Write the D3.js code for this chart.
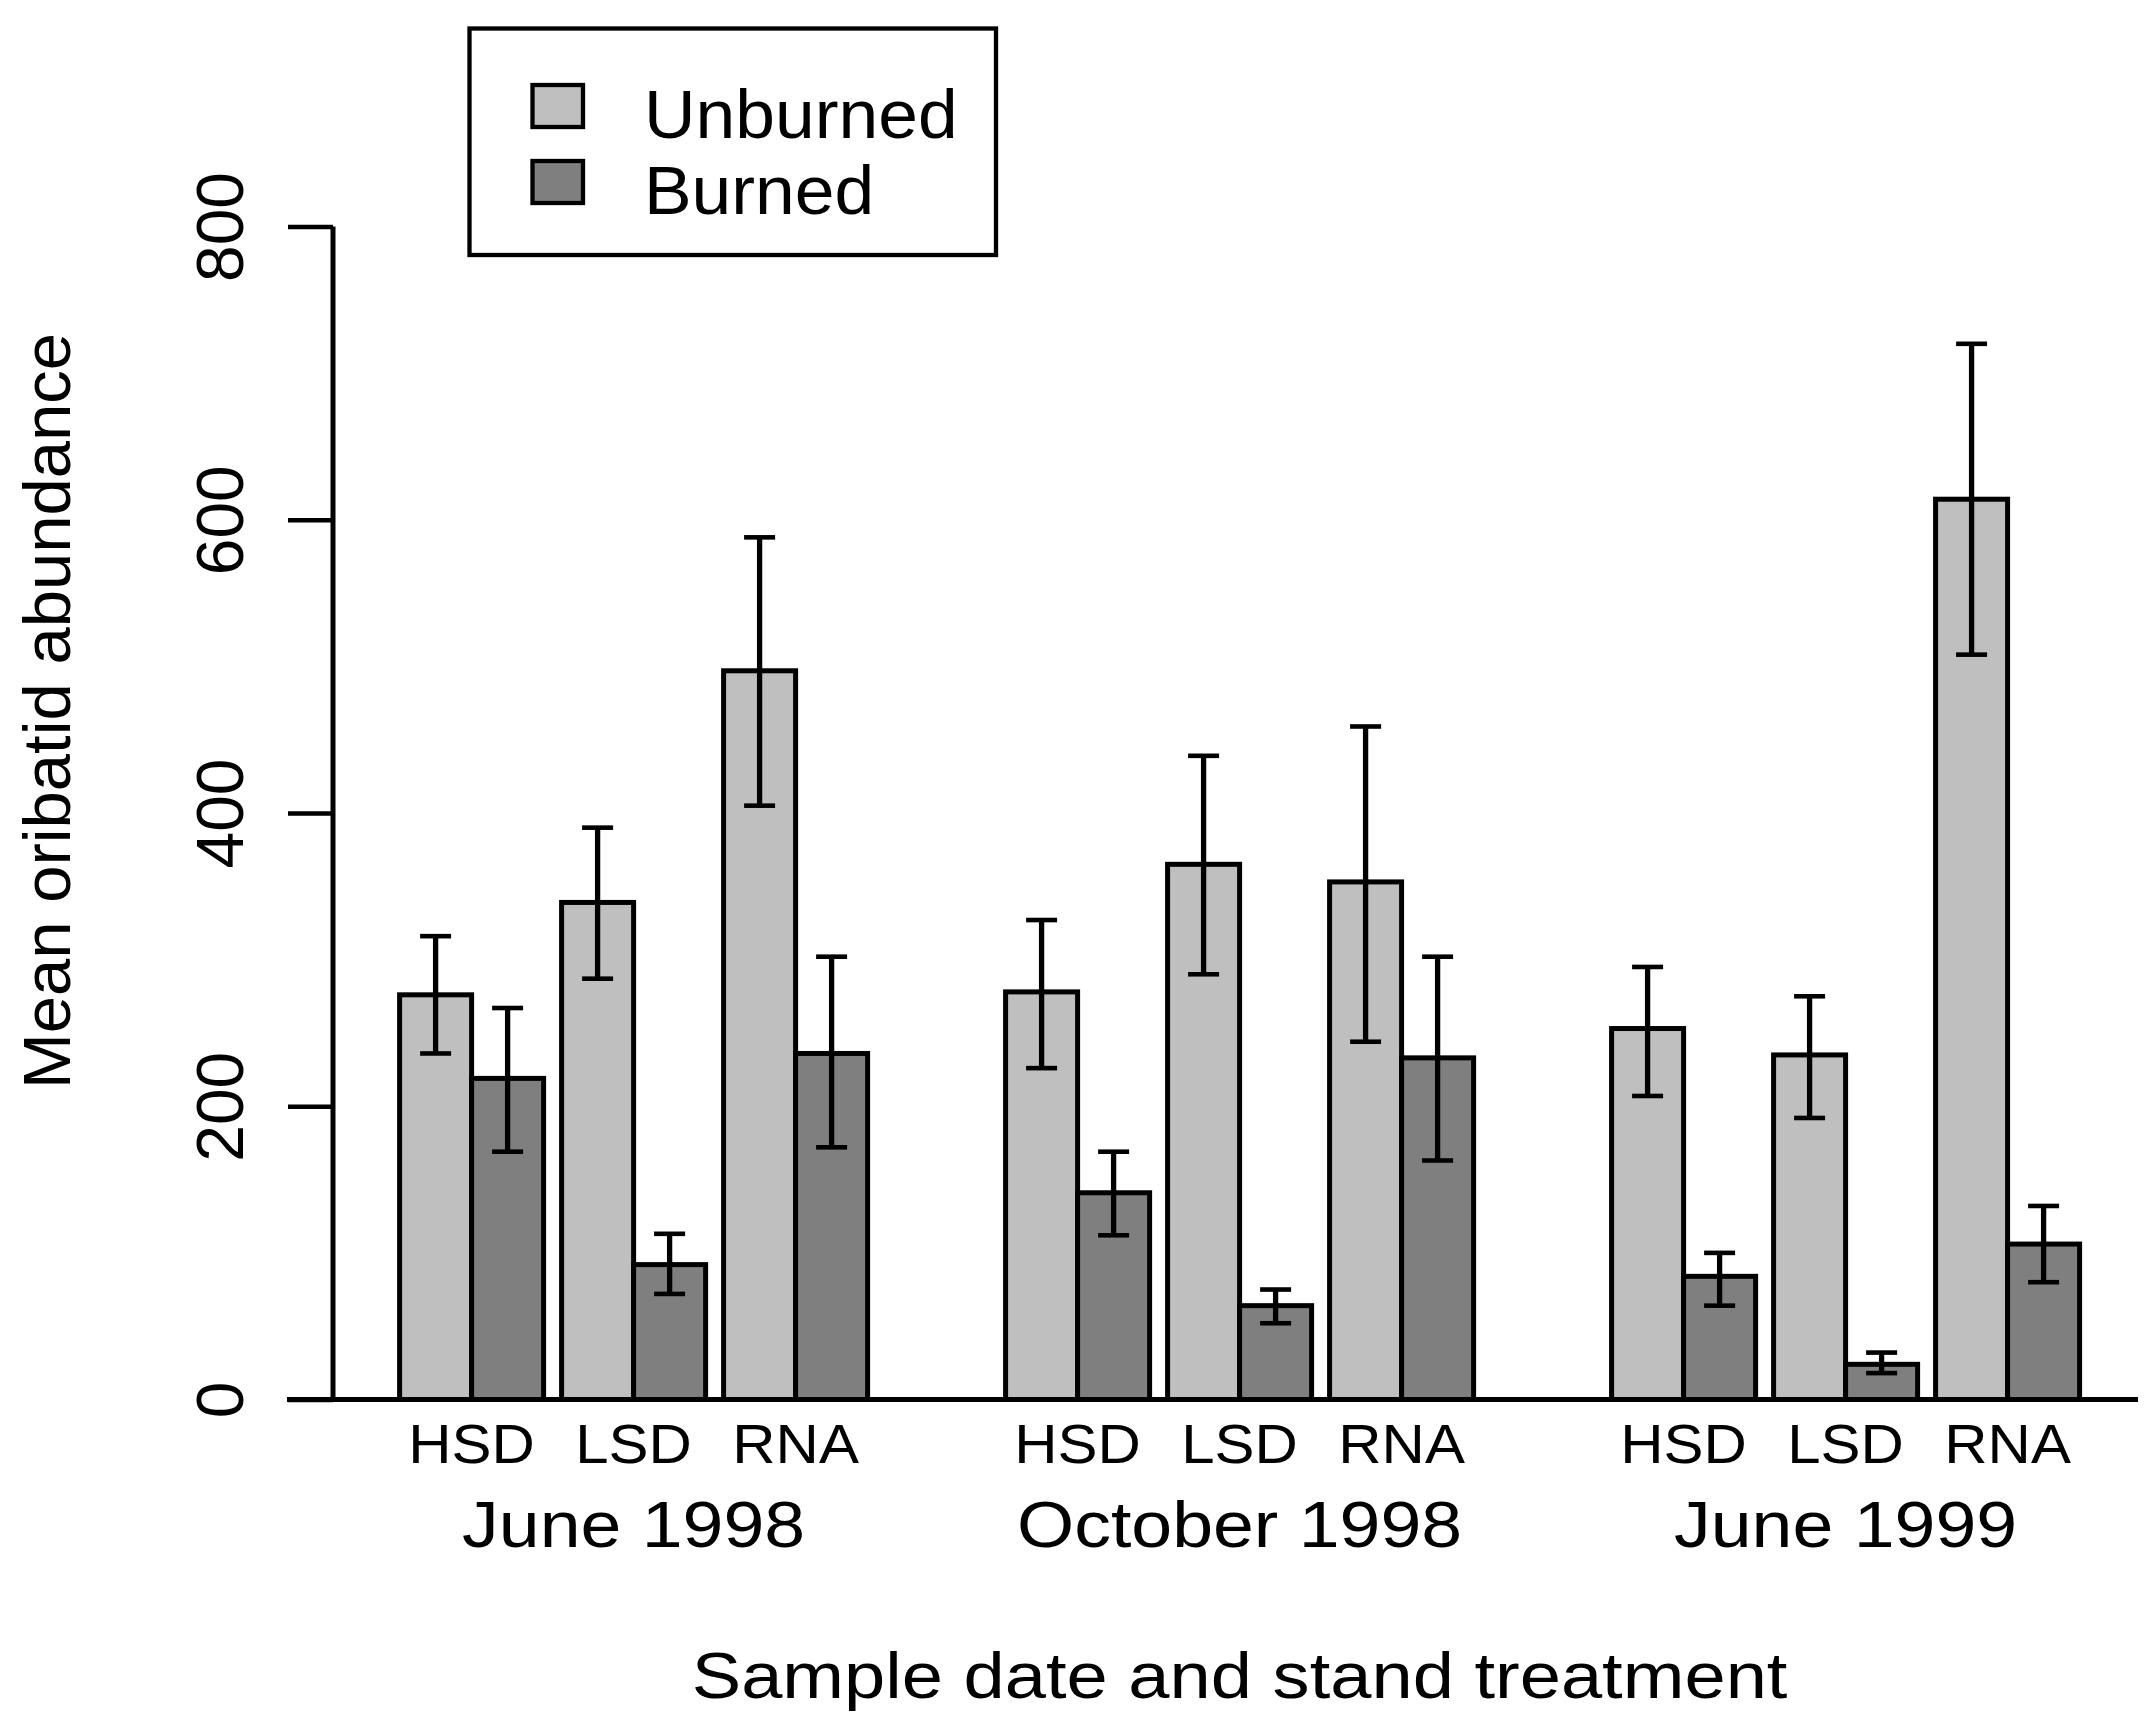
<!DOCTYPE html>
<html>
<head>
<meta charset="utf-8">
<script src="https://cdn.jsdelivr.net/npm/d3@7/dist/d3.min.js"></script>
<style>
  html, body { margin: 0; padding: 0; background: #fff; }
  svg { display: block; }
  text { font-family: "Liberation Sans", Arial, Helvetica, sans-serif; fill: #000; }
</style>
</head>
<body>
<script>
// ---------- data ----------
const dates = ["June 1998", "October 1998", "June 1999"];
const treatments = ["HSD", "LSD", "RNA"];
const seriesNames = ["Unburned", "Burned"];
const seriesColors = ["#bfbfbf", "#7f7f7f"];

// order: June98 HSD,LSD,RNA | Oct98 HSD,LSD,RNA | June99 HSD,LSD,RNA
const unburnedMean = [276, 339, 497, 278, 365, 353, 253, 235, 614];
const unburnedLow  = [236, 287, 405, 226, 290, 244, 207, 192, 508];
const unburnedHigh = [316, 390, 588, 327, 439, 459, 295, 275, 720];
const burnedMean   = [219,  92, 236, 141,  64, 233,  84,  24, 106];
const burnedLow    = [169,  72, 172, 112,  52, 163,  64,  18,  80];
const burnedHigh   = [267, 113, 302, 169,  75, 302, 100,  32, 132];

const yTicks = [0, 200, 400, 600, 800];
const yTitle = "Mean oribatid abundance";
const xTitle = "Sample date and stand treatment";

// ---------- build records ----------
const records = [];
dates.forEach((d, gi) => {
  treatments.forEach((t, ti) => {
    const k = gi * treatments.length + ti;
    records.push({date: d, treat: t, series: "Unburned", mean: unburnedMean[k], lo: unburnedLow[k], hi: unburnedHigh[k]});
    records.push({date: d, treat: t, series: "Burned", mean: burnedMean[k], lo: burnedLow[k], hi: burnedHigh[k]});
  });
});

// ---------- layout ----------
const W = 2146, H = 1731;
const svg = d3.select("body").append("svg").attr("width", W).attr("height", H);

const y = d3.scaleLinear().domain([0, 800]).range([1399.5, 226.5]);
const xGroup = d3.scaleBand().domain(dates).range([399.6, 2079.6]).paddingInner(0.2277).paddingOuter(0);
const xTreat = d3.scaleBand().domain(treatments).range([0, xGroup.bandwidth()]).paddingInner(0.111).paddingOuter(0);
const xSeries = d3.scaleBand().domain(seriesNames).range([0, xTreat.bandwidth()]).padding(0);
const color = d3.scaleOrdinal().domain(seriesNames).range(seriesColors);

const xOf = r => xGroup(r.date) + xTreat(r.treat) + xSeries(r.series);
const LW = 5;
const EW = 5.3;

function stretch(sel, factor) {
  sel.each(function() {
    const len = this.getComputedTextLength();
    d3.select(this).attr("textLength", len * factor).attr("lengthAdjust", "spacingAndGlyphs");
  });
}

// ---------- bars ----------
svg.append("g").selectAll("rect").data(records).join("rect")
  .attr("x", d => xOf(d))
  .attr("y", d => y(d.mean))
  .attr("width", xSeries.bandwidth())
  .attr("height", d => y(0) - y(d.mean))
  .attr("fill", d => color(d.series))
  .attr("stroke", "#000")
  .attr("stroke-width", LW);

// ---------- error bars ----------
const capW = 31;
const eb = svg.append("g").selectAll("g").data(records).join("g")
  .attr("transform", d => `translate(${xOf(d) + xSeries.bandwidth() / 2},0)`);
eb.append("line").attr("x1", 0).attr("x2", 0)
  .attr("y1", d => y(d.lo)).attr("y2", d => y(d.hi))
  .attr("stroke", "#000").attr("stroke-width", EW);
eb.append("line").attr("x1", -capW / 2).attr("x2", capW / 2)
  .attr("y1", d => y(d.hi)).attr("y2", d => y(d.hi))
  .attr("stroke", "#000").attr("stroke-width", 4.6);
eb.append("line").attr("x1", -capW / 2).attr("x2", capW / 2)
  .attr("y1", d => y(d.lo)).attr("y2", d => y(d.lo))
  .attr("stroke", "#000").attr("stroke-width", 4.6);

// ---------- baseline ----------
svg.append("line")
  .attr("x1", 287).attr("x2", 2138)
  .attr("y1", y(0)).attr("y2", y(0))
  .attr("stroke", "#000").attr("stroke-width", 5);

// ---------- y axis ----------
const axisX = 333;
const yAxis = svg.append("g").attr("transform", `translate(${axisX},0)`)
  .call(d3.axisLeft(y).tickValues(yTicks).tickSize(45).tickSizeOuter(0).tickFormat(d3.format("d")));
yAxis.select(".domain").attr("stroke", "#000").attr("stroke-width", 5)
  .attr("d", `M0,${y(0)}V${y(800)}`);
yAxis.selectAll(".tick line").attr("stroke", "#000").attr("stroke-width", 4.5);
yAxis.selectAll(".tick text")
  .attr("x", null).attr("dy", null)
  .attr("transform", "translate(-90,0) rotate(-90)")
  .attr("text-anchor", "middle")
  .attr("font-size", 66)
  .attr("font-family", "Liberation Sans, Arial, sans-serif")
  .attr("fill", "#000");

// y title
svg.append("text")
  .attr("transform", "translate(70,711) rotate(-90)")
  .attr("text-anchor", "middle")
  .attr("font-size", 67)
  .text(yTitle);

// ---------- x labels ----------
const pairs = [];
dates.forEach(d => treatments.forEach(t => pairs.push({date: d, treat: t})));
svg.append("g").selectAll("text").data(pairs).join("text")
  .attr("x", d => xGroup(d.date) + xTreat(d.treat) + xTreat.bandwidth() / 2)
  .attr("y", 1463)
  .attr("text-anchor", "middle")
  .attr("font-size", 55)
  .text(d => d.treat)
  .call(stretch, 1.09);

svg.append("g").selectAll("text").data(dates).join("text")
  .attr("x", d => xGroup(d) + xGroup.bandwidth() / 2)
  .attr("y", 1547)
  .attr("text-anchor", "middle")
  .attr("font-size", 65)
  .text(d => d)
  .call(stretch, 1.13);

svg.append("text")
  .attr("x", xGroup.range()[0] + (xGroup.range()[1] - xGroup.range()[0]) / 2)
  .attr("y", 1698)
  .attr("text-anchor", "middle")
  .attr("font-size", 65)
  .text(xTitle)
  .call(stretch, 1.14);

// ---------- legend ----------
const lg = svg.append("g");
lg.append("rect").attr("x", 469.5).attr("y", 28.5).attr("width", 526.5).attr("height", 226.5)
  .attr("fill", "#fff").attr("stroke", "#000").attr("stroke-width", 4.3);
const legY = d3.scalePoint().domain(seriesNames).range([106, 182]);
const li = lg.selectAll("g.item").data(seriesNames).join("g").attr("class", "item");
li.append("rect")
  .attr("x", 532.5).attr("y", d => legY(d) - 21)
  .attr("width", 50.5).attr("height", 42)
  .attr("fill", d => color(d)).attr("stroke", "#000").attr("stroke-width", 4.3);
li.append("text")
  .attr("x", 644).attr("y", d => legY(d) + 32)
  .attr("font-size", 68)
  .text(d => d)
  .call(stretch, 1.05);
</script>
</body>
</html>
